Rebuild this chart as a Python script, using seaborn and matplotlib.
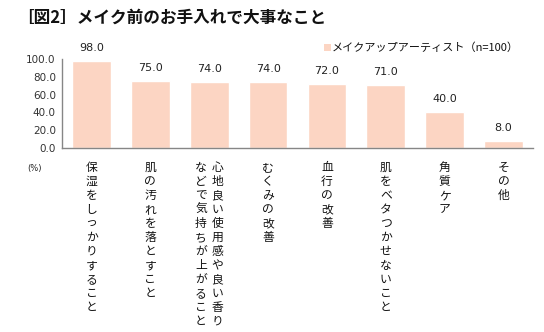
import matplotlib
matplotlib.use("Agg")
import matplotlib.pyplot as plt
import matplotlib.transforms as mtransforms
from matplotlib.patches import Rectangle
import seaborn as sns
import pandas as pd

# Survey items (each entry is a list of vertical text columns, right-to-left)
categories = [
    ["保湿をしっかりすること"],
    ["肌の汚れを落とすこと"],
    ["心地良い使用感や良い香り", "などで気持ちが上がること"],
    ["むくみの改善"],
    ["血行の改善"],
    ["肌をベタつかせないこと"],
    ["角質ケア"],
    ["その他"],
]
values = [98.0, 75.0, 74.0, 74.0, 72.0, 71.0, 40.0, 8.0]
yticks = [0, 20, 40, 60, 80, 100]
series_name = "メイクアップアーティスト（n=100）"
title = "［図2］メイク前のお手入れで大事なこと"

BAR = "#FCD5C3"
AXIS = "#868686"
JP = ["Noto Sans CJK JP", "DejaVu Sans"]

sns.set_theme(style="white")
plt.rcParams["font.family"] = JP

df = pd.DataFrame({"item": [str(i) for i in range(len(values))], "value": values})

fig = plt.figure(figsize=(5.44, 3.32), dpi=100)
ax = fig.add_axes([62 / 544, 1 - 148 / 332, (533 - 62) / 544, (148 - 59) / 332])
sns.barplot(data=df, x="item", y="value", color=BAR, saturation=1, width=0.66, ax=ax)

ax.set_xlim(-0.5, len(values) - 0.5)
ax.set_ylim(0, 100)
ax.set_xlabel("")
ax.set_ylabel("")
for s in ["top", "right"]:
    ax.spines[s].set_visible(False)
for s in ["left", "bottom"]:
    ax.spines[s].set_color(AXIS)
    ax.spines[s].set_linewidth(1.0)

ax.set_yticks(yticks)
ax.set_yticklabels([f"{v:.1f}" for v in yticks], family="DejaVu Sans", fontsize=7.5, color="#333333")
ax.tick_params(axis="y", direction="inout", length=5, width=1, color=AXIS, pad=2)

# category boundaries carry the x ticks; names are drawn as vertical text
ax.set_xticks([i - 0.5 for i in range(len(values) + 1)])
ax.set_xticklabels([])
ax.tick_params(axis="x", direction="inout", length=6, width=1, color=AXIS)

trans = mtransforms.blended_transform_factory(ax.transData, fig.transFigure)
for i, cols in enumerate(categories):
    n = len(cols)
    for j, col in enumerate(cols):
        offset = (n - 1) / 2 - j
        ax.text(i + offset * 0.28, 1 - 161 / 332, "\n".join(col), transform=trans,
                ha="center", va="top", fontsize=8.5, linespacing=1.1,
                color="#111111", family=JP)

for i, v in enumerate(values):
    ax.text(i, v + 9, f"{v:.1f}", ha="center", va="bottom",
            family="DejaVu Sans", fontsize=8, color="#222222", clip_on=False)

fig.text(27 / 544, 1 - 168 / 332, "(%)", fontsize=6, family="DejaVu Sans",
         ha="left", va="center", color="#222222")

# legend
fig.patches.append(Rectangle((324 / 544, 1 - 51 / 332), 7 / 544, 7 / 332,
                             transform=fig.transFigure, facecolor=BAR, edgecolor="none"))
fig.text(332 / 544, 1 - 47.5 / 332, series_name, fontsize=8, ha="left", va="center",
         color="#111111", family=JP)

fig.text(17 / 544, 1 - 18 / 332, title, fontsize=12, fontweight="bold",
         ha="left", va="center", color="#111111", family=JP)

fig.savefig("out.png", dpi=100, facecolor="white")
